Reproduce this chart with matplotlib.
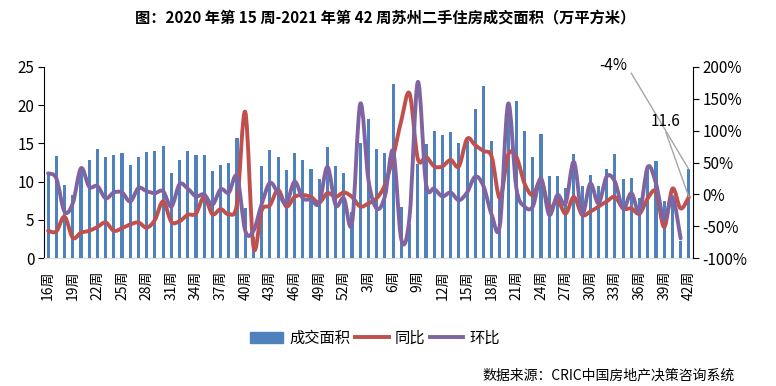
import numpy as np
import matplotlib.pyplot as plt
from matplotlib.path import Path
from matplotlib.patches import PathPatch, Patch
from matplotlib.lines import Line2D
from matplotlib.ticker import FuncFormatter

plt.rcParams['font.family'] = ['Noto Sans CJK SC', 'DejaVu Sans']

# 2020 第16周 ~ 2021 第42周
weeks = list(range(16, 53)) + list(range(1, 43))

# 成交面积（万平方米）
area = [11.1, 13.4, 9.6, 8.3, 11.7, 12.8, 14.3, 13.2, 13.5, 13.7, 12.2, 13.2, 13.9, 14.0, 14.7, 11.1,
        12.8, 14.0, 13.5, 13.5, 11.4, 12.2, 12.4, 15.7, 6.6, 2.8, 12.0, 14.1, 13.2, 11.5, 13.7, 12.8,
        11.6, 10.4, 14.5, 12.0, 11.1, 6.1, 15.1, 18.2, 14.3, 13.7, 22.7, 6.7, 4.5, 12.3, 14.9, 16.6,
        16.1, 16.5, 15.0, 15.3, 19.5, 22.5, 15.3, 8.2, 20.0, 20.5, 16.6, 13.2, 16.2, 10.7, 10.7, 9.2,
        13.6, 9.4, 10.9, 9.4, 11.7, 13.6, 10.4, 10.5, 7.9, 12.0, 12.7, 7.5, 7.4, 2.3, 11.6]

# 同比 (%)
yoy = [-57, -58, -35, -68, -60, -57, -51, -44, -57, -53, -47, -44, -52, -40, -11, -43,
       -42, -32, -30, -4, -31, -23, -31, -14, 129, -82, -25, -17, 7, -19, -4, -1,
       -4, -13, 2, -4, 3, -4, -19, -14, -6, 15, 59, 116, 158, 56, 59, 44,
       44, 54, 44, 87, 77, 68, 59, -6, 62, 59, 17, -1, 22, -22, -9, -30,
       -4, -32, -27, -19, -11, -4, -22, -22, -30, -6, 4, -51, 9, -22, -4]

# 环比 (%)，最后一周无数据
mom = [33, 25, -27, -14, 41, 12, 13, -6, 3, 3, -11, 10, 5, 2, 5, -19,
       16, 9, -3, 0, -16, 8, 3, 28, -57, -57, -15, 18, 2, -14, 20, -6,
       -8, -14, 43, -17, -6, -45, 142, 22, -22, -3, 68, -71, -35, 176, 17, 9,
       -3, 3, -9, 3, 28, 13, -32, -48, 142, 10, -19, -19, 25, -32, -1, -14,
       51, -30, 17, -14, 28, 20, -22, 2, -27, 43, 17, -40, -4, -69]

c_bar = '#4F81BD'
c_yoy = '#C0504D'
c_mom = '#8064A2'


def smooth_path(xs, ys):
    # excel 风格的平滑线（catmull-rom 转 bezier）
    pts = list(zip(xs, ys))
    verts = [pts[0]]
    codes = [Path.MOVETO]
    n = len(pts)
    for i in range(n - 1):
        p0 = pts[i - 1] if i > 0 else pts[i]
        p1 = pts[i]
        p2 = pts[i + 1]
        p3 = pts[i + 2] if i + 2 < n else pts[i + 1]
        c1 = (p1[0] + (p2[0] - p0[0]) / 6, p1[1] + (p2[1] - p0[1]) / 6)
        c2 = (p2[0] - (p3[0] - p1[0]) / 6, p2[1] - (p3[1] - p1[1]) / 6)
        verts += [c1, c2, p2]
        codes += [Path.CURVE4] * 3
    return Path(verts, codes)


x = np.arange(len(weeks))

fig = plt.figure(figsize=(7.76, 3.86), dpi=100)
ax = fig.add_axes([0.0567, 0.331, 0.8363, 0.496])
ax.bar(x, area, width=0.38, color=c_bar, zorder=2)
ax.set_xlim(-0.5, len(weeks) - 0.5)
ax.set_ylim(0, 25)
ax.set_yticks(range(0, 26, 5))
ax.set_xticks(x[::3])
ax.set_xticklabels([f'{w}周' for w in weeks[::3]], rotation=90, fontsize=10)
ax.tick_params(axis='x', length=0, pad=9)
ax.tick_params(axis='y', labelsize=11, length=4, width=0.8, pad=3)
ax.spines['top'].set_visible(False)
ax.spines['right'].set_visible(False)
ax.spines['bottom'].set_color('#D9D9D9')
ax.spines['left'].set_linewidth(0.8)

ax2 = ax.twinx()
ax2.set_ylim(-100, 200)
ax2.set_yticks(range(-100, 201, 50))
ax2.yaxis.set_major_formatter(FuncFormatter(lambda v, p: f'{v:.0f}%'))
ax2.tick_params(axis='y', labelsize=11, length=4, width=0.8, pad=3)
for s in ['top', 'left', 'bottom']:
    ax2.spines[s].set_visible(False)
ax2.spines['right'].set_linewidth(0.8)

ax2.add_patch(PathPatch(smooth_path(x, yoy), fill=False, ec=c_yoy, lw=2.8,
                        capstyle='round', joinstyle='round'))
mx = x[:len(mom)]
ax2.add_patch(PathPatch(smooth_path(mx, mom), fill=False, ec=c_mom, lw=2.8,
                        capstyle='round', joinstyle='round'))

# 数据标签
ax.annotate('-4%', xy=(x[-1], area[-1]), xytext=(613, 320), textcoords='figure pixels',
            ha='center', va='center', fontsize=11,
            arrowprops=dict(arrowstyle='-', color='#A6A6A6', lw=1, shrinkA=2, shrinkB=0,
                            relpos=(1, 0.5)))
ax2.annotate(f'{area[-1]}', xy=(x[-1], yoy[-1]), xytext=(666, 265), textcoords='figure pixels',
             ha='center', va='center', fontsize=11,
             arrowprops=dict(arrowstyle='-', color='#A6A6A6', lw=1, shrinkA=0, shrinkB=0,
                             relpos=(0.4, 0.3)))

handles = [Patch(color=c_bar), Line2D([], [], color=c_yoy, lw=2.8),
           Line2D([], [], color=c_mom, lw=2.8)]
fig.legend(handles, ['成交面积', '同比', '环比'], loc='center', bbox_to_anchor=(0.483, 0.124),
           ncol=3, frameon=False, fontsize=11, handlelength=2.2, columnspacing=0.3,
           handletextpad=0.4)

fig.text(0.497, 0.953, '图：2020 年第 15 周-2021 年第 42 周苏州二手住房成交面积（万平方米）',
         ha='center', va='center', fontsize=11, fontweight='bold')
fig.text(0.947, 0.028, '数据来源：CRIC中国房地产决策咨询系统', ha='right', va='center', fontsize=10)

fig.savefig('out.png', dpi=100)
